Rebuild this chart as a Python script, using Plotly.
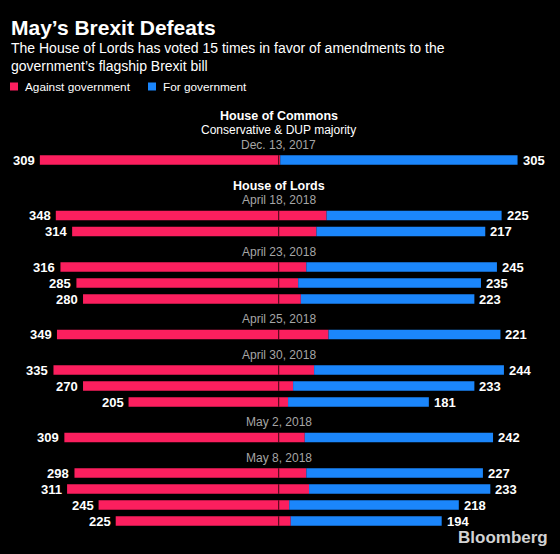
import plotly.graph_objects as go

# ---- data ----
chambers = ["House of Commons"] + ["House of Lords"] * 14
vote_dates = ["Dec. 13, 2017",
              "April 18, 2018", "April 18, 2018",
              "April 23, 2018", "April 23, 2018", "April 23, 2018",
              "April 25, 2018",
              "April 30, 2018", "April 30, 2018", "April 30, 2018",
              "May 2, 2018",
              "May 8, 2018", "May 8, 2018", "May 8, 2018", "May 8, 2018"]
against_gov = [309, 348, 314, 316, 285, 280, 349, 335, 270, 205, 309, 298, 311, 245, 225]
for_gov = [305, 225, 217, 245, 235, 223, 221, 244, 233, 181, 242, 227, 233, 218, 194]
chamber_notes = {"House of Commons": "Conservative & DUP majority"}

title = "May’s Brexit Defeats"
subtitle = ("The House of Lords has voted 15 times in favor of amendments to the<br>"
            "government’s flagship Brexit bill")
series_names = ["Against government", "For government"]

# ---- style ----
W, H = 560, 554
RED = "#fb1f5e"
BLUE = "#1b86fb"
FONT = "Liberation Sans"
PX_PER_VOTE = 0.778
CENTER_PX = 278.7
BAR_H = 9.5

# layout of rows (pixel space on y axis)
ys = []
for i in range(len(against_gov)):
    if i == 0:
        ys.append(160)
    elif chambers[i] != chambers[i - 1]:
        ys.append(ys[-1] + 55.5)
    elif vote_dates[i] != vote_dates[i - 1]:
        ys.append(ys[-1] + 35.5)
    else:
        ys.append(ys[-1] + 16)

bases_red = [-(a + b) / 2 for a, b in zip(against_gov, for_gov)]
bases_blue = [br + a for br, a in zip(bases_red, against_gov)]

fig = go.Figure()
fig.add_trace(go.Bar(orientation="h", y=ys, x=against_gov, base=bases_red,
                     width=BAR_H, marker=dict(color=RED, line=dict(width=0)),
                     name=series_names[0], hoverinfo="skip"))
fig.add_trace(go.Bar(orientation="h", y=ys, x=for_gov, base=bases_blue,
                     width=BAR_H, marker=dict(color=BLUE, line=dict(width=0)),
                     name=series_names[1], hoverinfo="skip"))

# center divider on each bar
lx, ly = [], []
for y in ys:
    lx += [0, 0, None]
    ly += [y - BAR_H / 2, y + BAR_H / 2, None]
fig.add_trace(go.Scatter(x=lx, y=ly, mode="lines",
                         line=dict(color="rgba(40,0,10,0.9)", width=1),
                         hoverinfo="skip", showlegend=False))

ann = []
# value labels
for y, br, a, b in zip(ys, bases_red, against_gov, for_gov):
    ann.append(dict(x=br, y=y, text=f"<b>{a}</b>", xanchor="right", yanchor="middle",
                    xshift=-3, showarrow=False, font=dict(color="white", size=13, family=FONT)))
    ann.append(dict(x=-br, y=y, text=f"<b>{b}</b>", xanchor="left", yanchor="middle",
                    xshift=3, showarrow=False, font=dict(color="white", size=13, family=FONT)))

# group headers
for i, y in enumerate(ys):
    if i == 0 or vote_dates[i] != vote_dates[i - 1]:
        dy = y - 15.5
        ann.append(dict(x=0, y=dy, text=vote_dates[i], xanchor="center", yanchor="middle",
                        showarrow=False, font=dict(color="#a6a6a6", size=12, family=FONT)))
        if i == 0 or chambers[i] != chambers[i - 1]:
            hy = dy - 14.5
            note = chamber_notes.get(chambers[i])
            if note:
                ann.append(dict(x=0, y=hy, text=note, xanchor="center", yanchor="middle",
                                showarrow=False, font=dict(color="white", size=12, family=FONT)))
                hy -= 14.5
            ann.append(dict(x=0, y=hy, text=f"<b>{chambers[i]}</b>", xanchor="center",
                            yanchor="middle", showarrow=False,
                            font=dict(color="white", size=12.5, family=FONT)))

# title, subtitle
ann.append(dict(xref="paper", x=9 / W, y=27, text=f"<b>{title}</b>", xanchor="left",
                yanchor="middle", showarrow=False, font=dict(color="white", size=21, family=FONT)))
ann.append(dict(xref="paper", x=9 / W, y=57, text=subtitle, xanchor="left", align="left",
                yanchor="middle", showarrow=False, font=dict(color="white", size=14, family=FONT)))

# legend (manual)
shapes = []
leg_items = [(10, RED, series_names[0]), (148, BLUE, series_names[1])]
for x0, col, name in leg_items:
    shapes.append(dict(type="rect", xref="paper", yref="y", x0=x0 / W, x1=(x0 + 8) / W,
                       y0=82.5, y1=90.5, fillcolor=col, line=dict(width=0)))
    ann.append(dict(xref="paper", x=(x0 + 13) / W, y=86.5, text=name, xanchor="left",
                    yanchor="middle", showarrow=False,
                    font=dict(color="white", size=11.8, family=FONT)))

# source logo
ann.append(dict(xref="paper", x=550 / W, y=537, text="<b>Bloomberg</b>", xanchor="right",
                yanchor="middle", showarrow=False, font=dict(color="#d2d2d2", size=17, family=FONT)))

fig.update_layout(
    width=W, height=H,
    margin=dict(l=0, r=0, t=0, b=0),
    paper_bgcolor="black", plot_bgcolor="black",
    barmode="overlay", showlegend=False,
    xaxis=dict(range=[-CENTER_PX / PX_PER_VOTE, (W - CENTER_PX) / PX_PER_VOTE],
               visible=False, fixedrange=True),
    yaxis=dict(range=[H, 0], visible=False, fixedrange=True),
    annotations=ann, shapes=shapes,
)

fig.write_html(
    "out.html",
    config={"displayModeBar": False},
    post_script=("document.body.style.margin='0';"
                 "document.body.style.padding='0';"
                 "document.body.style.background='black';"
                 "document.body.style.overflow='hidden';"),
)
